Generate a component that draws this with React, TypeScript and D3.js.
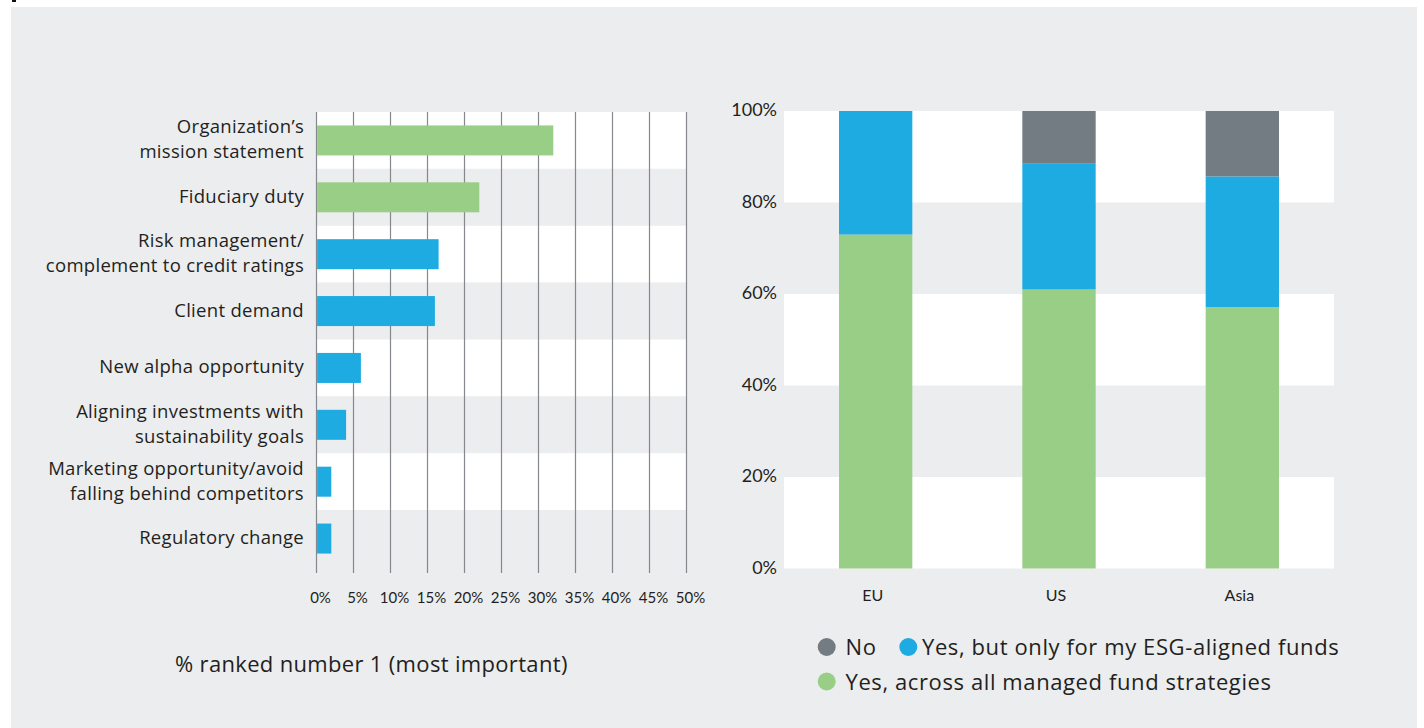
import React from "react";
import * as d3 from "d3";

// ---------- Data ----------
const reasonLabels: string[][] = [
  ["Organization’s", "mission statement"],
  ["Fiduciary duty"],
  ["Risk management/", "complement to credit ratings"],
  ["Client demand"],
  ["New alpha opportunity"],
  ["Aligning investments with", "sustainability goals"],
  ["Marketing opportunity/avoid", "falling behind competitors"],
  ["Regulatory change"],
];
const reasonValues: number[] = [32, 22, 16.5, 16, 6, 4, 2, 2];
const reasonHighlighted: boolean[] = [true, true, false, false, false, false, false, false];
const xTicks: number[] = [0, 5, 10, 15, 20, 25, 30, 35, 40, 45, 50];
const leftAxisTitle = "% ranked number 1 (most important)";

const regions: string[] = ["EU", "US", "Asia"];
const yesAllValues: number[] = [73, 61, 57.1];
const yesEsgValues: number[] = [27, 27.6, 28.6];
const noValues: number[] = [0, 11.4, 14.3];
const yTicks: number[] = [0, 20, 40, 60, 80, 100];
const seriesNames: string[] = [
  "No",
  "Yes, but only for my ESG-aligned funds",
  "Yes, across all managed fund strategies",
];

// ---------- Styles ----------
const GREEN = "#99CE86";
const BLUE = "#1DABE2";
const GREY = "#727C82";
const BG = "#ECEDEF";
const TEXT = "#231F20";
const FONT = "Lato, 'Open Sans', sans-serif";
const WIDE = "'Open Sans', Lato, sans-serif";

export default function App() {
  // Left chart scales
  const xL = d3.scaleLinear().domain([0, 50]).range([316.5, 686.5]);
  const yL = d3
    .scaleBand<number>()
    .domain(reasonValues.map((_, i) => i))
    .range([112, 567])
    .padding(0);
  const barH = 30;

  // Right chart scales
  const xR = d3
    .scaleBand<string>()
    .domain(regions)
    .range([784, 1334])
    .paddingInner(0.6)
    .paddingOuter(0.3);
  const yR = d3.scaleLinear().domain([0, 100]).range([568.5, 111]);

  const stackRows = regions.map((r, i) => ({
    region: r,
    yesAll: yesAllValues[i],
    yesEsg: yesEsgValues[i],
    no: noValues[i],
  }));
  const stack = d3
    .stack<any>()
    .keys(["yesAll", "yesEsg", "no"])(stackRows);
  const stackColors: Record<string, string> = { yesAll: GREEN, yesEsg: BLUE, no: GREY };

  const legend = [
    { name: seriesNames[0], color: GREY, cx: 826.7, cy: 647, tx: 845.5 },
    { name: seriesNames[1], color: BLUE, cx: 908.3, cy: 647, tx: 922 },
    { name: seriesNames[2], color: GREEN, cx: 826.7, cy: 681.5, tx: 845.5 },
  ];

  return (
    <svg
      width={1424}
      height={728}
      style={{ position: "absolute", left: 0, top: 0, fontFamily: FONT }}
    >
      <rect x={0} y={0} width={1424} height={728} fill="#fff" />
      <rect x={11} y={7} width={1406} height={721} fill={BG} />
      <rect x={12} y={0} width={4} height={2} fill="#111" />

      {/* ---------- Left chart ---------- */}
      {reasonValues.map((_, i) => (
        <rect
          key={"band" + i}
          x={xL(0)}
          y={yL(i)!}
          width={xL(50) - xL(0)}
          height={yL.bandwidth()}
          fill={i % 2 === 0 ? "#fff" : BG}
        />
      ))}
      {xTicks.map((t) => (
        <line
          key={"grid" + t}
          x1={xL(t)}
          x2={xL(t)}
          y1={112}
          y2={573}
          stroke="#85888c"
          strokeWidth={1.2}
        />
      ))}
      {reasonValues.map((v, i) => {
        const cy = yL(i)! + yL.bandwidth() / 2;
        return (
          <rect
            key={"bar" + i}
            x={xL(0) + 0.6}
            y={cy - barH / 2}
            width={xL(v) - xL(0) - 0.6}
            height={barH}
            fill={reasonHighlighted[i] ? GREEN : BLUE}
          />
        );
      })}
      {reasonLabels.map((lines, i) => {
        const cy = yL(i)! + yL.bandwidth() / 2 - 2;
        const lh = 25;
        const start = cy - ((lines.length - 1) * lh) / 2;
        return (
          <text
            key={"lab" + i}
            x={304}
            textAnchor="end"
            fontSize={18.5}
            letterSpacing={0.3}
            fontFamily={WIDE}
            fill={TEXT}
          >
            {lines.map((ln, j) => (
              <tspan key={j} x={304} y={start + j * lh} dominantBaseline="central">
                {ln}
              </tspan>
            ))}
          </text>
        );
      })}
      {xTicks.map((t) => (
        <text
          key={"xt" + t}
          x={xL(t) + 4}
          y={597}
          textAnchor="middle"
          dominantBaseline="central"
          fontSize={15}
          fill={TEXT}
        >
          {t + "%"}
        </text>
      ))}
      <text
        x={175}
        y={663}
        dominantBaseline="central"
        fontSize={22}
        letterSpacing={0.33}
        fontFamily={WIDE}
        fill={TEXT}
      >
        {leftAxisTitle}
      </text>

      {/* ---------- Right chart ---------- */}
      {yTicks.slice(0, -1).map((t, i) => (
        <rect
          key={"rband" + t}
          x={784}
          y={yR(t + 20)}
          width={1334 - 784}
          height={yR(t) - yR(t + 20)}
          fill={i % 2 === 0 ? "#fff" : BG}
        />
      ))}
      {stack.map((s) =>
        s.map((d, j) =>
          d[1] - d[0] > 0 ? (
            <rect
              key={s.key + j}
              x={xR(regions[j])!}
              y={yR(d[1])}
              width={xR.bandwidth()}
              height={yR(d[0]) - yR(d[1])}
              fill={stackColors[s.key]}
            />
          ) : null
        )
      )}
      {yTicks.map((t) => (
        <text
          key={"yt" + t}
          x={777}
          y={yR(t) - 2}
          textAnchor="end"
          dominantBaseline="central"
          fontSize={18}
          fill={TEXT}
        >
          {t + "%"}
        </text>
      ))}
      {regions.map((r) => (
        <text
          key={"xr" + r}
          x={xR(r)! + xR.bandwidth() / 2 - 3}
          y={594}
          textAnchor="middle"
          dominantBaseline="central"
          fontSize={16}
          fill={TEXT}
        >
          {r}
        </text>
      ))}

      {/* Legend */}
      {legend.map((l) => (
        <g key={l.name}>
          <circle cx={l.cx} cy={l.cy} r={9} fill={l.color} />
          <text
            x={l.tx}
            y={l.cy - 1}
            dominantBaseline="central"
            fontSize={22}
            letterSpacing={0.6}
            fontFamily={WIDE}
            fill={TEXT}
          >
            {l.name}
          </text>
        </g>
      ))}
    </svg>
  );
}
